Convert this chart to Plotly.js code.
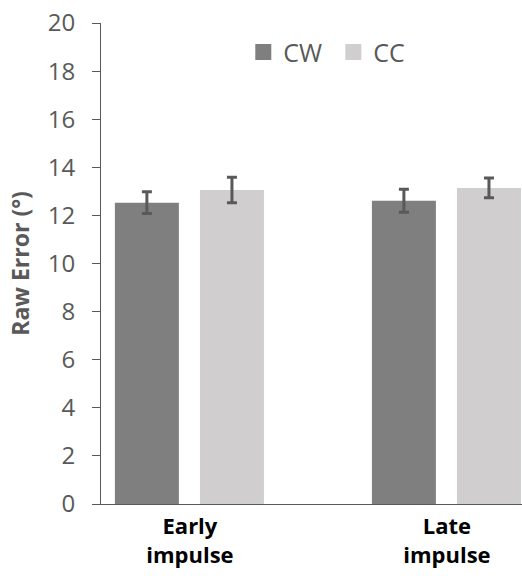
<!DOCTYPE html>
<html>
<head>
<meta charset="utf-8">
<script src="https://cdn.plot.ly/plotly-3.0.1.min.js"></script>
<style>html,body{margin:0;padding:0;background:#fff;}#chart{width:522px;height:579px;}</style>
</head>
<body>
<div id="chart"></div>
<script>
const categories = ["Early<br>impulse", "Late<br>impulse"];
const seriesNames = ["CW", "CC"];
const cwValues = [12.53, 12.61];
const cwErrors = [0.45, 0.48];
const ccValues = [13.06, 13.14];
const ccErrors = [0.53, 0.41];
const yTicks = [0, 2, 4, 6, 8, 10, 12, 14, 16, 18, 20];
const colors = ['#7f7f7f', '#d0cece'];

const errStyle = {type: 'data', visible: true, color: '#595959', thickness: 3, width: 5};
const traces = [
  {type: 'bar', name: seriesNames[0], x: categories, y: cwValues, showlegend: false,
   error_y: Object.assign({array: cwErrors}, errStyle),
   marker: {color: colors[0]}, width: 0.249, offset: -0.292},
  {type: 'bar', name: seriesNames[1], x: categories, y: ccValues, showlegend: false,
   error_y: Object.assign({array: ccErrors}, errStyle),
   marker: {color: colors[1]}, width: 0.249, offset: 0.039},
  // legend-only entries with larger square swatches
  {type: 'scatter', mode: 'markers', name: seriesNames[0], x: [null], y: [null],
   marker: {symbol: 'square', size: 16, color: colors[0]}, hoverinfo: 'skip'},
  {type: 'scatter', mode: 'markers', name: seriesNames[1], x: [null], y: [null],
   marker: {symbol: 'square', size: 16, color: colors[1]}, hoverinfo: 'skip'}
];
const layout = {
  width: 522, height: 579,
  margin: {l: 101, r: 0, t: 23, b: 75},
  paper_bgcolor: '#fff', plot_bgcolor: '#fff',
  font: {family: 'Open Sans, Noto Sans, sans-serif', color: '#595959'},
  showlegend: true,
  legend: {orientation: 'h', x: 0.338, y: 0.939, xanchor: 'left', yanchor: 'middle',
           font: {size: 25, color: '#595959'}, itemwidth: 30, entrywidth: 45,
           bgcolor: 'rgba(0,0,0,0)', tracegroupgap: 0},
  xaxis: {type: 'category', range: [-0.346, 1.292], showline: true, linecolor: '#595959', linewidth: 1,
          ticks: '', tickfont: {size: 22, color: '#000', family: 'Open Sans, sans-serif', weight: 'bold'},
          ticklabelstandoff: 3,
          showgrid: false, zeroline: false, fixedrange: true},
  yaxis: {range: [0, 20], tickvals: yTicks, ticks: 'outside', ticklen: 8, tickcolor: '#595959',
          showline: true, linecolor: '#595959', linewidth: 1, showgrid: false, zeroline: false,
          tickfont: {size: 24, color: '#595959'}, ticklabelstandoff: 12,
          title: {text: 'Raw Error (°)', font: {size: 23, color: '#595959', weight: 'bold'}, standoff: 11}}
};
Plotly.newPlot('chart', traces, layout, {displayModeBar: false, staticPlot: true});
</script>
</body>
</html>
